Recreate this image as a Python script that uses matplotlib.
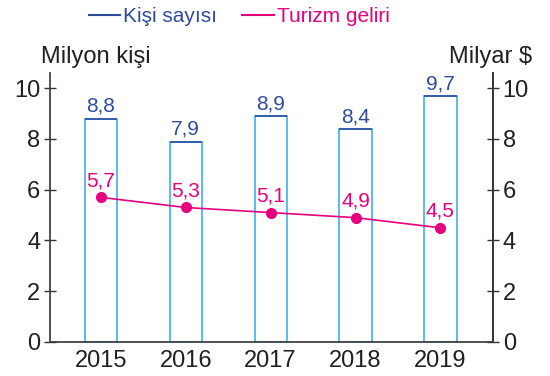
import matplotlib
matplotlib.use('Agg')
import matplotlib.pyplot as plt
from matplotlib.lines import Line2D
import numpy as np

plt.rcParams.update({
    'font.family': ['Liberation Sans', 'DejaVu Sans'],
    'font.size': 16,
})

years = ['2015', '2016', '2017', '2018', '2019']
visitors = [8.8, 7.9, 8.9, 8.4, 9.7]        # milyon kişi
revenue = [5.7, 5.3, 5.1, 4.9, 4.5]         # milyar $

BAR_EDGE = '#3fb1e5'
DARK_BLUE = '#2f4b9b'
PINK = '#e6007e'
AXIS = '#333333'
TEXT = '#231f20'

fig = plt.figure(figsize=(5.5, 3.76), dpi=100)
ax = fig.add_axes([50 / 550, 34 / 376, 443 / 550, 269 / 376])

x = np.arange(len(years))
width = 0.38
ax.bar(x, visitors, width=width, facecolor='white', edgecolor=BAR_EDGE,
       linewidth=1.2, zorder=2)
# dark blue cap on each bar
ax.hlines(visitors, x - width / 2, x + width / 2, color=DARK_BLUE,
          linewidth=1.2, zorder=3)
for xi, v in zip(x, visitors):
    ax.annotate(f'{v:.1f}'.replace('.', ','), (xi, v), xytext=(0, 2),
                textcoords='offset points', ha='center', va='bottom',
                color=DARK_BLUE, fontsize=15)

ax.plot(x, revenue, color=PINK, linewidth=1.2, marker='o', markersize=7,
        zorder=4)
for xi, v in zip(x, revenue):
    ax.annotate(f'{v:.1f}'.replace('.', ','), (xi, v), xytext=(0, 5),
                textcoords='offset points', ha='center', va='bottom',
                color=PINK, fontsize=15)

ax.set_xlim(-0.6, 4.62)
ax.set_ylim(0, 10.6)
ax.set_xticks(x)
ax.set_xticklabels(years)
ax.set_yticks(range(0, 11, 2))
ax.tick_params(axis='x', length=0, pad=6, labelsize=17, colors=TEXT)
ax.tick_params(axis='y', direction='inout', length=8, width=1, pad=3,
               labelsize=17, color=AXIS, labelcolor=TEXT)
ax.spines['top'].set_visible(False)
for s in ('left', 'right', 'bottom'):
    ax.spines[s].set_color(AXIS)
    ax.spines[s].set_linewidth(1.2)

ax2 = ax.twinx()
ax2.set_ylim(ax.get_ylim())
ax2.set_yticks(range(0, 11, 2))
ax2.tick_params(axis='y', direction='inout', length=8, width=1, pad=3,
                labelsize=17, color=AXIS, labelcolor=TEXT)
for s in ('top', 'left', 'bottom'):
    ax2.spines[s].set_visible(False)
ax2.spines['right'].set_color(AXIS)
ax2.spines['right'].set_linewidth(1.2)

ax.text(0.104, 1.018, 'Milyon kişi', transform=ax.transAxes, ha='center',
        va='bottom', fontsize=17, color=TEXT)
ax.text(0.995, 1.018, 'Milyar $', transform=ax.transAxes, ha='center',
        va='bottom', fontsize=17, color=TEXT)

handles = [Line2D([], [], color=DARK_BLUE, linewidth=1.5),
           Line2D([], [], color=PINK, linewidth=1.5)]
leg = fig.legend(handles, ['Kişi sayısı', 'Turizm geliri'], ncol=2,
                 loc='upper center', bbox_to_anchor=(0.435, 1.03),
                 frameon=False, fontsize=15, handlelength=1.5,
                 handletextpad=0.15, columnspacing=1.2)
for t, c in zip(leg.get_texts(), (DARK_BLUE, PINK)):
    t.set_color(c)

fig.savefig('out.png', dpi=100)
